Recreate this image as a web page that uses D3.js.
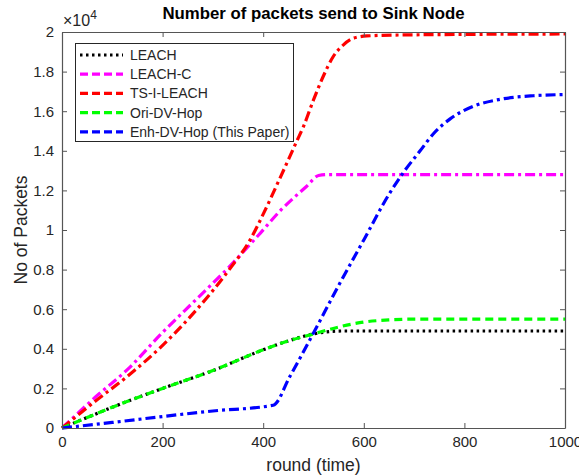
<!DOCTYPE html>
<html><head><meta charset="utf-8">
<script src="https://cdn.jsdelivr.net/npm/d3@7"></script>
<style>body{margin:0;background:#fff}svg{display:block}text{font-family:"Liberation Sans",Arial,sans-serif}</style>
</head><body>
<svg id="c" width="579" height="476"></svg>
<script>
const seriesNames = ["LEACH","LEACH-C","TS-I-LEACH","Ori-DV-Hop","Enh-DV-Hop (This Paper)"];
const seriesColors = ["#000000","#ff00ff","#ff0000","#00ff00","#0000ff"];
const leachX = [0,50,100,200,300,400,450,500,525,560,1000];
const leachY = [0,530,1050,2000,2900,3950,4400,4750,4850,4900,4900];
const leachCX = [0,66,132,199,265,331,391,433,486,510,530,1000];
const leachCY = [0,1550,3000,4800,6450,8100,9750,10950,12200,12750,12800,12800];
const tsX = [0,66,132,199,265,334,374,400,433,467,480,500,519,539,559,579,606,672,1000];
const tsY = [0,1350,2650,4150,5900,8050,9500,10800,12600,14500,15220,16570,17740,18750,19340,19680,19800,19850,19900];
const oriX = [0,50,100,200,300,400,450,500,550,600,650,700,1000];
const oriY = [0,530,1050,2000,2900,3950,4400,4750,5100,5350,5460,5500,5500];
const enhX = [0,100,200,300,420,453,500,550,600,650,680,712,738,771,818,871,937,1000];
const enhY = [0,280,580,860,1150,2600,4800,7200,9500,11800,12950,14000,14850,15600,16250,16600,16780,16840];
const xTicks = [0,200,400,600,800,1000];
const yTicks = [0,2000,4000,6000,8000,10000,12000,14000,16000,18000,20000];
const titleText = "Number of packets send to Sink Node";
const xLabel = "round (time)";
const yLabel = "No of Packets";

const seriesX = [leachX, leachCX, tsX, oriX, enhX];
const seriesY = [leachY, leachCY, tsY, oriY, enhY];
const dashes = ["2.5,3.5","10,4,3,4","10,4,3,4","8,5","10,4,3,4"];
const widths = [3.2,3.2,3.2,3.2,3.2];

const svg = d3.select("#c");
const L=62, R=565, T=32, B=428;
const x = d3.scaleLinear().domain([0,1000]).range([L,R]);
const y = d3.scaleLinear().domain([0,20000]).range([B,T]);
const axCol = "#262626";

const line = d3.line().x(d=>x(d[0])).y(d=>y(d[1])).curve(d3.curveMonotoneX);
const g = svg.append("g");
seriesNames.forEach((n,i)=>{
  const pts = seriesX[i].map((v,j)=>[v, seriesY[i][j]]);
  g.append("path").attr("d", line(pts)).attr("fill","none")
    .attr("stroke", seriesColors[i]).attr("stroke-width", widths[i])
    .attr("stroke-dasharray", dashes[i]);
});

const fmtY = d => d3.format("~g")(d/10000);
const ax = svg.append("g").attr("class","axes");
ax.append("g").attr("transform",`translate(0,${B})`)
  .call(d3.axisBottom(x).tickValues(xTicks).tickFormat(d3.format("d")).tickSizeInner(-5).tickSizeOuter(0).tickPadding(8));
ax.append("g").attr("transform",`translate(0,${T})`)
  .call(d3.axisTop(x).tickValues(xTicks).tickSizeInner(-5).tickSizeOuter(0).tickFormat(""));
ax.append("g").attr("transform",`translate(${L},0)`)
  .call(d3.axisLeft(y).tickValues(yTicks).tickFormat(fmtY).tickSizeInner(-5).tickSizeOuter(0).tickPadding(8));
ax.append("g").attr("transform",`translate(${R},0)`)
  .call(d3.axisRight(y).tickValues(yTicks).tickSizeInner(-5).tickSizeOuter(0).tickFormat(""));
ax.selectAll(".domain").attr("stroke","#555").attr("stroke-width",1.2);
ax.selectAll(".tick line").attr("stroke","#555");
ax.selectAll(".tick text").attr("fill",axCol).attr("font-size","15px").attr("font-family","Liberation Sans, Arial, sans-serif");

const ex = svg.append("text").attr("x",63).attr("y",26).attr("fill",axCol).attr("font-size","16px");
ex.append("tspan").text("\u00d710");
ex.append("tspan").attr("dy",-7).attr("font-size","12px").text("4");

svg.append("text").attr("x",(L+R)/2).attr("y",19).attr("text-anchor","middle")
  .attr("font-weight","bold").attr("font-size","16.8px").attr("fill","#000").text(titleText);
svg.append("text").attr("x",(L+R)/2).attr("y",471).attr("text-anchor","middle")
  .attr("font-size","17.5px").attr("fill",axCol).text(xLabel);
svg.append("text").attr("transform",`translate(27,${(T+B)/2}) rotate(-90)`).attr("text-anchor","middle")
  .attr("font-size","17.5px").attr("fill",axCol).text(yLabel);

const lg = svg.append("g");
lg.append("rect").attr("x",75.5).attr("y",43.5).attr("width",218).attr("height",98)
  .attr("fill","#fff").attr("stroke","#262626").attr("stroke-width",1);
seriesNames.forEach((n,i)=>{
  const yy = 55 + i*19.2;
  lg.append("line").attr("x1",80).attr("x2",123).attr("y1",yy).attr("y2",yy)
    .attr("stroke",seriesColors[i]).attr("stroke-width",widths[i]).attr("stroke-dasharray", i===0?"2.5,3.5":"8,4");
  lg.append("text").attr("x",130).attr("y",yy+5).attr("font-size","14px").attr("fill",axCol).text(n);
});
</script>
</body></html>
